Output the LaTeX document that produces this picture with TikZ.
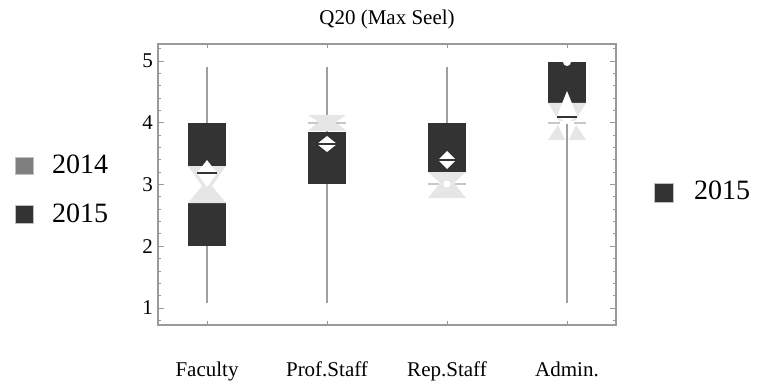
\documentclass[tikz,border=0pt]{standalone}
\usepackage{fontspec}
\setmainfont{Liberation Serif}
\definecolor{boxdark}{HTML}{333333}
\definecolor{notchgray}{HTML}{E6E6E6}
\definecolor{dashgray}{HTML}{C8C8C8}
\definecolor{whiskgray}{HTML}{A0A0A0}
\definecolor{axisgray}{HTML}{9A9A9A}
\definecolor{oldgray}{HTML}{7F7F7F}
\begin{document}
\begin{tikzpicture}[x=1pt,y=-1pt,
  declare function={vy(\v)=308-(\v-1)*61.75;},
  frame/.style={draw=axisgray,line width=1.1pt},
  tickmark/.style={draw=axisgray,line width=0.9pt},
  whisker/.style={draw=whiskgray,line width=1.5pt},
  boxfill/.style={fill=boxdark},
  notchfill/.style={fill=notchgray},
  notchdash/.style={draw=dashgray,line width=1.6pt},
  meanmark/.style={fill=white},
  medline/.style={draw=boxdark,line width=1.6pt},
  lbl/.style={font=\fontsize{21}{23}\selectfont,inner sep=0pt},
  legtxt/.style={font=\fontsize{28}{30}\selectfont,inner sep=0pt,anchor=base west},
  legsq/.style={draw=black!25,line width=0.6pt}]
\useasboundingbox (0,0) rectangle (763,385);

% plot frame and ticks
\draw[frame] (158,44) rectangle (616,325);
\foreach \k in {4,...,26}{
  \draw[tickmark] (158,{vy(\k/5)}) -- ++(3,0);
  \draw[tickmark] (616,{vy(\k/5)}) -- ++(-3,0);
}
\foreach \v in {1,...,5}{
  \draw[tickmark] (158,{vy(\v)}) -- ++(6,0);
  \draw[tickmark] (616,{vy(\v)}) -- ++(-6,0);
  \node[lbl,anchor=east] (ylab\v) at (153,{vy(\v)}) {\v};
}
\foreach \cx in {207,327,447,567}{
  \draw[tickmark] (\cx,44) -- ++(0,4);
  \draw[tickmark] (\cx,325) -- ++(0,-4);
}

% title and category labels
\node[lbl,anchor=base] (title) at (387,25) {Q20 (Max Seel)};
\node[lbl,anchor=base] (catfac) at (207,376) {Faculty};
\node[lbl,anchor=base] (catprof) at (327,376) {Prof.Staff};
\node[lbl,anchor=base] (catrep) at (447,376) {Rep.Staff};
\node[lbl,anchor=base] (catadm) at (567,376) {Admin.};

% Faculty
\draw[whisker] (207,67) -- (207,303);
\fill[boxfill] (188,123) rectangle (226,166);
\fill[boxfill] (188,203) rectangle (226,246);
\fill[notchfill] (188,166) -- (226,166) -- (212,186) -- (226,203) -- (188,203) -- (202,186) -- cycle;
\fill[meanmark] (207,160) -- (217,173) -- (207,187) -- (197,173) -- cycle;
\draw[medline] (197,173) -- (217,173);

% Prof.Staff
\draw[whisker] (327,67) -- (327,303);
\fill[boxfill] (308,132) rectangle (346,184);
\fill[notchfill] (308,115) -- (346,115) -- (336,122) -- (346,131) -- (308,131) -- (318,122) -- cycle;
\draw[notchdash] (308,123) -- (318,123);
\draw[notchdash] (336,123) -- (346,123);
\fill[meanmark] (327,136) -- (337,144) -- (327,152) -- (317,144) -- cycle;
\draw[medline] (317,144) -- (337,144);

% Rep.Staff
\draw[whisker] (447,67) -- (447,123);
\fill[boxfill] (428,123) rectangle (466,172);
\fill[notchfill] (428,172) -- (466,172) -- (454,183) -- (466,198) -- (428,198) -- (440,183) -- cycle;
\draw[notchdash] (428,184) -- (439,184);
\draw[notchdash] (455,184) -- (466,184);
\fill[white] (447,184) circle (3.5);
\fill[meanmark] (447,151) -- (456,160) -- (447,169) -- (438,160) -- cycle;
\draw[medline] (438,160) -- (456,160);

% Admin.
\fill[boxfill] (548,62) rectangle (586,103);
\fill[white] (567,62) circle (4);
\fill[notchfill] (548,103) -- (586,103) -- (575,121) -- (559,121) -- cycle;
\fill[notchfill] (558,125) -- (548,140) -- (565,140) -- cycle;
\fill[notchfill] (576,125) -- (569,140) -- (586,140) -- cycle;
\fill[meanmark] (567,91) -- (577,116) -- (567,123) -- (557,116) -- cycle;
\draw[notchdash] (548,123) -- (560,123);
\draw[notchdash] (574,123) -- (586,123);
\draw[medline] (557,117) -- (577,117);
\draw[whisker] (567,124) -- (567,303);

% legends
\fill[oldgray,legsq] (15,157) rectangle (33,174);
\node[legtxt] (leg14) at (52,173) {2014};
\fill[boxdark,legsq] (15,205) rectangle (33,223);
\node[legtxt] (leg15) at (52,222) {2015};
\fill[boxdark,legsq] (654,183) rectangle (673,202);
\node[legtxt] (legr15) at (694,199) {2015};
\end{tikzpicture}
\end{document}
